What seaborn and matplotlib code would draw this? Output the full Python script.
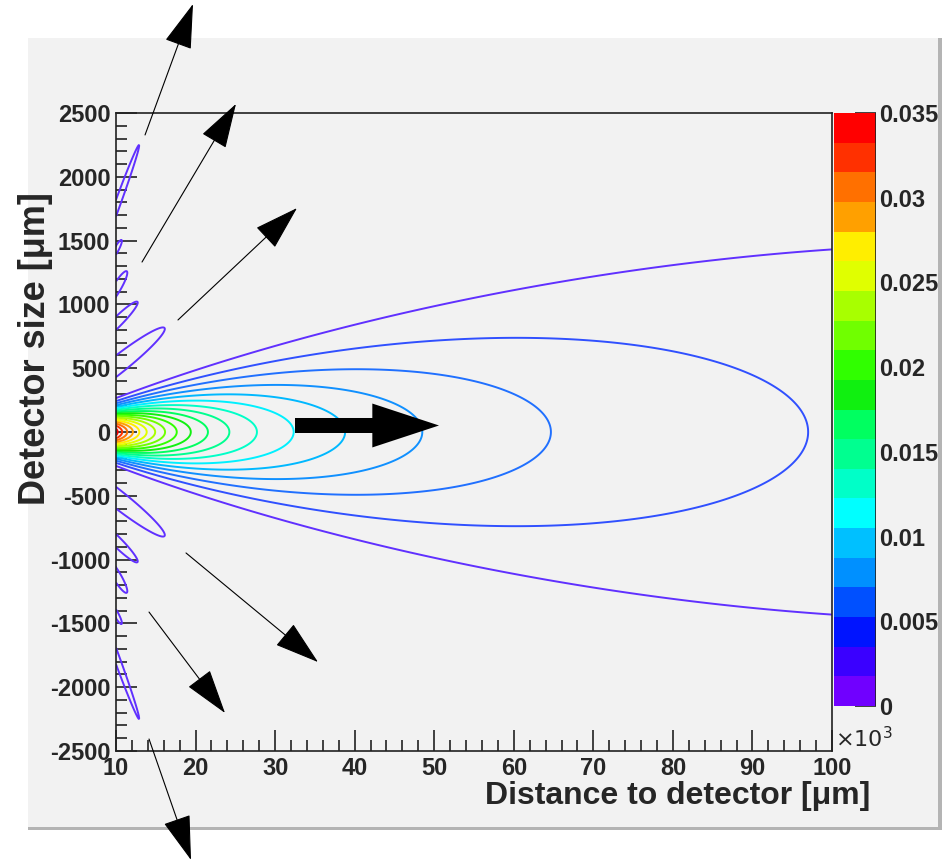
import numpy as np
import matplotlib
matplotlib.use("Agg")
import matplotlib.pyplot as plt
import seaborn as sns
from matplotlib.colors import ListedColormap, BoundaryNorm
from matplotlib.cm import ScalarMappable
from matplotlib.patches import Rectangle
from matplotlib.ticker import MultipleLocator, FormatStrFormatter

# ---- values ----
# contour levels (20 equal bands from 0 to 0.035)
level_step = 0.00175
n_bands = 20
band_colors = ["#7000ff", "#3a00ff", "#0014ff", "#0050ff", "#0090ff",
               "#00c0ff", "#00ffff", "#00ffc8", "#00ff90", "#00ff60",
               "#10f010", "#30ff00", "#70ff00", "#a8ff00", "#e0ff00",
               "#ffee00", "#ffa000", "#ff7000", "#ff3000", "#ff0000"]
# line colours of the 19 drawn contours (lowest first)
line_colors = ["#6030ff", "#3050ff", "#2070ff", "#1090ff", "#00b8ff",
               "#00f0ff", "#00ffc8", "#00ff90", "#00ff60", "#10f010",
               "#30ff00", "#70ff00", "#a8ff00", "#e0ff00", "#ffee00",
               "#ffa000", "#ff7000", "#ff3000", "#ff0000"]
cbar_ticks = [0, 0.005, 0.01, 0.015, 0.02, 0.025, 0.03, 0.035]
cbar_labels = ["0", "0.005", "0.01", "0.015", "0.02", "0.025", "0.03", "0.035"]

# main lobe: on-axis value * distance, and width of the central peak
on_axis_amp = 0.3395      # I(x, 0) = amp / x
main_width = 10.5         # um of detector per 10^3 um of distance

# side lobes (upper half, mirrored below): base span at x = 10, tip position
lobe_base_lo = [430, 800, 1060, 1390, 1690]
lobe_base_hi = [600, 905, 1180, 1460, 1820]
lobe_tip_x = [16.1, 12.7, 11.35, 10.7, 12.9]
lobe_tip_y = [815, 1020, 1260, 1505, 2250]

# annotation arrows (data coordinates)
arrow_tail_x = [13.65, 13.27, 17.79, 18.80, 14.15, 14.15]
arrow_tail_y = [2328, 1332, 878, -948, -1411, -2406]
arrow_tip_x = [19.68, 25.08, 32.75, 35.39, 23.70, 19.43]
arrow_tip_y = [3354, 2571, 1755, -1803, -2202, -3354]
big_arrow_x = [32.5, 50.6]
big_arrow_y = [51, 51]

# ---- field ----
x = np.linspace(10, 100, 1200)
y = np.linspace(-2500, 2500, 2001)
X, Y = np.meshgrid(x, y)
beta = (Y / X) / main_width
main = on_axis_amp / X * np.sinc(beta / np.pi) ** 2
main[np.abs(beta) >= np.pi] = 0.0

# side lobes as half ellipses hanging off the x = 10 edge, in screen-like units
sx, sy = 716 / 90.0, 638 / 5000.0
PX, PY = (X - 10) * sx, Y * sy
lobes = np.zeros_like(main)
peak = 1.9 * level_step
for lo, hi, tx, ty in zip(lobe_base_lo, lobe_base_hi, lobe_tip_x, lobe_tip_y):
    for sgn in (1, -1):
        bx, by = 0.0, sgn * 0.5 * (lo + hi) * sy
        dx, dy = (tx - 10) * sx, sgn * ty * sy - by
        L = np.hypot(dx, dy)
        ux, uy = dx / L, dy / L
        h = 0.5 * (hi - lo) * sy
        W = abs(ux) / np.sqrt(1 / h ** 2 - uy ** 2 / L ** 2)
        s = (PX - bx) * ux + (PY - by) * uy
        t = -(PX - bx) * uy + (PY - by) * ux
        q = (s / L) ** 2 + (t / W) ** 2
        lobes = np.maximum(lobes, peak * np.exp(-np.log(1.9) * q))
field = np.maximum(main, lobes)

# ---- figure ----
sns.set_style("ticks")
plt.rcParams["font.family"] = ["Liberation Sans", "DejaVu Sans"]
plt.rcParams["axes.unicode_minus"] = False

fig = plt.figure(figsize=(9.42, 8.64), dpi=100, facecolor="white")
W_, H_ = 942.0, 864.0
fig.patches.append(Rectangle((28 / W_, 1 - 828 / H_), 912 / W_, 790 / H_,
                             transform=fig.transFigure, facecolor="#f2f2f2",
                             edgecolor="none", zorder=-10))
fig.patches.append(Rectangle((28 / W_, 1 - 830 / H_), 914 / W_, 3 / H_,
                             transform=fig.transFigure, facecolor="#b4b4b4",
                             edgecolor="none", zorder=-9))
fig.patches.append(Rectangle((938 / W_, 1 - 830 / H_), 4 / W_, 792 / H_,
                             transform=fig.transFigure, facecolor="#b4b4b4",
                             edgecolor="none", zorder=-9))

ax = fig.add_axes([116 / W_, 1 - 751 / H_, 716 / W_, 638 / H_])
ax.set_facecolor("#f2f2f2")
levels = [level_step * k for k in range(1, n_bands)]
cmap = ListedColormap(sns.color_palette(band_colors))
ax.contour(X, Y, field, levels=levels, colors=line_colors,
           linewidths=1.4, zorder=2)
ax.set_xlim(10, 100)
ax.set_ylim(-2500, 2500)

ax.xaxis.set_major_locator(MultipleLocator(10))
ax.xaxis.set_minor_locator(MultipleLocator(2))
ax.xaxis.set_major_formatter(FormatStrFormatter("%d"))
ax.yaxis.set_major_locator(MultipleLocator(500))
ax.yaxis.set_minor_locator(MultipleLocator(100))
ax.yaxis.set_major_formatter(FormatStrFormatter("%d"))
ax.tick_params(which="major", direction="in", length=15, width=1.2,
               labelsize=17, pad=4, top=False, right=False, color="#222222")
ax.tick_params(which="minor", direction="in", length=8, width=1.2,
               top=False, right=False, color="#222222")
for lab in ax.get_xticklabels() + ax.get_yticklabels():
    lab.set_fontweight("bold")
for sp in ax.spines.values():
    sp.set_linewidth(1.2)
    sp.set_color("#222222")

ax.set_ylabel("Detector size [μm]", fontsize=26, fontweight="bold")
ax.yaxis.set_label_coords(-0.088, 0.63)
ax.set_xlabel("Distance to detector [μm]", fontsize=23, fontweight="bold",
              ha="right")
ax.xaxis.set_label_coords(1.053, -0.047)

for x0, y0, x1, y1 in zip(arrow_tail_x, arrow_tail_y, arrow_tip_x, arrow_tip_y):
    ax.annotate("", xy=(x1, y1), xytext=(x0, y0), annotation_clip=False,
                arrowprops=dict(arrowstyle="-|>,head_length=1.45,head_width=0.45",
                                mutation_scale=20, color="black", lw=0.8,
                                shrinkA=0, shrinkB=0), zorder=5)
ax.annotate("", xy=(big_arrow_x[1], big_arrow_y[1]),
            xytext=(big_arrow_x[0], big_arrow_y[0]),
            arrowprops=dict(arrowstyle="simple,head_length=2.4,head_width=1.58,tail_width=0.54",
                            mutation_scale=20, color="black", lw=0,
                            shrinkA=0, shrinkB=0), zorder=5)

fig.text(835 / W_, 1 - 752 / H_, r"$\times10^{3}$", fontsize=16,
         ha="left", va="bottom")

# ---- colour scale ----
cax = fig.add_axes([834 / W_, 1 - 706 / H_, 42 / W_, 593 / H_])
norm = BoundaryNorm([level_step * k for k in range(n_bands + 1)], cmap.N)
cb = fig.colorbar(ScalarMappable(norm=norm, cmap=cmap), cax=cax,
                  ticks=cbar_ticks)
cb.set_ticklabels(cbar_labels)
cb.outline.set_visible(False)
cax.axvline(1, color="#222222", lw=1.2)
cax.tick_params(direction="in", length=15, width=1.2, labelsize=17, pad=2,
                color="#222222")
cax.minorticks_off()
for lab in cax.get_yticklabels():
    lab.set_fontweight("bold")

fig.savefig("out.png", dpi=100, facecolor="white")
